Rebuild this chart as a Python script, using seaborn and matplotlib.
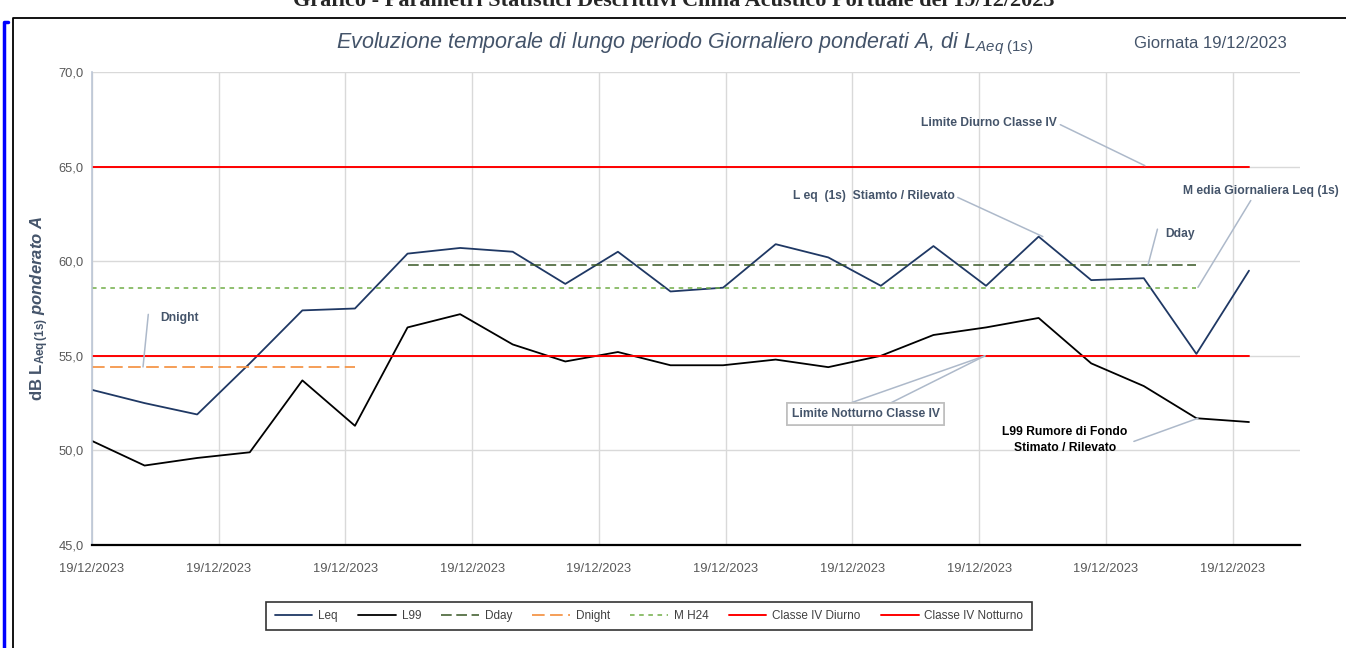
import numpy as np
import pandas as pd
import seaborn as sns
import matplotlib.pyplot as plt
from matplotlib.lines import Line2D

sns.set_style('white')
FONT = ['Liberation Sans', 'DejaVu Sans']
plt.rcParams['font.family'] = FONT
plt.rcParams['mathtext.fontset'] = 'custom'
plt.rcParams['mathtext.rm'] = 'Liberation Sans'
plt.rcParams['mathtext.it'] = 'Liberation Sans:italic'
plt.rcParams['mathtext.bf'] = 'Liberation Sans:bold'
plt.rcParams['mathtext.bfit'] = 'Liberation Sans:bold:italic'

# hourly samples of the day (index of the point along the time axis)
hours = list(range(23))
leq = [53.2, 52.5, 51.9, 54.6, 57.4, 57.5, 60.4, 60.7, 60.5, 58.8, 60.5, 58.4,
       58.6, 60.9, 60.2, 58.7, 60.8, 58.7, 61.3, 59.0, 59.1, 55.1, 59.5]
l99 = [50.5, 49.2, 49.6, 49.9, 53.7, 51.3, 56.5, 57.2, 55.6, 54.7, 55.2, 54.5,
       54.5, 54.8, 54.4, 55.0, 56.1, 56.5, 57.0, 54.6, 53.4, 51.7, 51.5]
dday_hours = list(range(6, 22))
dday_val = 59.8
dnight_hours = list(range(0, 6))
dnight_val = 54.4
mh24_hours = list(range(0, 22))
mh24_val = 58.6
lim_diurno = 65.0
lim_notturno = 55.0

series_names = ['Leq', 'L99', 'Dday', 'Dnight', 'M H24', 'Classe IV Diurno', 'Classe IV Notturno']
colors = ['#1F3864', '#000000', '#375623', '#F4964A', '#70AD47', '#FF0000', '#FF0000']
dash_styles = ['', '', (7, 3), (7, 3), (3, 3), '', '']
widths = [1.3, 1.3, 1.1, 1.3, 1.1, 1.4, 1.4]

y_ticks = [45, 50, 55, 60, 65, 70]
x_tick_labels = ['19/12/2023'] * 10

pieces = [
    pd.DataFrame({'ora': hours, 'dB': leq, 'serie': 'Leq'}),
    pd.DataFrame({'ora': hours, 'dB': l99, 'serie': 'L99'}),
    pd.DataFrame({'ora': dday_hours, 'dB': dday_val, 'serie': 'Dday'}),
    pd.DataFrame({'ora': dnight_hours, 'dB': dnight_val, 'serie': 'Dnight'}),
    pd.DataFrame({'ora': mh24_hours, 'dB': mh24_val, 'serie': 'M H24'}),
    pd.DataFrame({'ora': hours, 'dB': lim_diurno, 'serie': 'Classe IV Diurno'}),
    pd.DataFrame({'ora': hours, 'dB': lim_notturno, 'serie': 'Classe IV Notturno'}),
]
df = pd.concat(pieces, ignore_index=True)

fig = plt.figure(figsize=(13.46, 6.48), dpi=100)
ax = fig.add_axes([92/1346, 1-545/648, (1300-92)/1346, (545-72)/648])

sns.lineplot(data=df, x='ora', y='dB', hue='serie', style='serie',
             hue_order=series_names, style_order=series_names,
             palette=dict(zip(series_names, colors)),
             dashes=dict(zip(series_names, dash_styles)),
             ax=ax, legend=False, estimator=None, sort=False)
for line, lw in zip(ax.get_lines(), widths):
    line.set_linewidth(lw)

ax.set_xlim(0, 22.97)
ax.set_ylim(45, 70)
ax.set_yticks(y_ticks)
ax.set_yticklabels([f'{v:.1f}'.replace('.', ',') for v in y_ticks])
ax.set_xticks([i * 2.41 for i in range(len(x_tick_labels))])
ax.set_xticklabels(x_tick_labels)
ax.tick_params(axis='both', length=0, labelsize=9.3, colors='#595959', pad=6)
ax.tick_params(axis='x', pad=13)
ax.grid(True, color='#D9D9D9', lw=1)
ax.set_axisbelow(True)
for s in ['top', 'right']:
    ax.spines[s].set_visible(False)
ax.spines['left'].set_color('#BCC6D6')
ax.spines['left'].set_linewidth(1.2)
ax.spines['bottom'].set_color('black')
ax.spines['bottom'].set_linewidth(1.6)
ax.set_xlabel('')
ax.set_ylabel(r'dB L$_{\mathbf{Aeq\,(1s)}}$ $\mathbfit{ponderato\ A}$', fontsize=12, fontweight='bold',
              color='#44546A')
ax.yaxis.set_label_coords(-(92-51)/1208, 0.5)

# titles
fig.text(685/1346, 1-44/648, r'Evoluzione temporale di lungo periodo Giornaliero ponderati A, di L$_{Aeq\ (1s)}$',
         ha='center', va='center', fontsize=15.5, style='italic', color='#44546A')
fig.text(1210/1346, 1-44/648, 'Giornata 19/12/2023', ha='center', va='center',
         fontsize=12, color='#44546A')
fig.text(674/1346, 1-6/648, 'Grafico - Parametri Statistici Descrittivi Clima Acustico Portuale del 19/12/2023',
         ha='center', va='baseline', fontsize=16, fontweight='bold',
         family=['Liberation Serif', 'DejaVu Serif'])

# annotations with leader lines
lead = dict(arrowstyle='-', color='#ADB9CA', lw=1.1, shrinkA=0, shrinkB=0)
txt = dict(fontsize=8.7, color='#44546A', fontweight='bold')
ax.annotate('Dnight', xy=(0.97, 54.41), xytext=(1.29, 57.0), va='center', ha='left',
            arrowprops=dict(lead, relpos=(-0.3, 0.8)), **txt)
ax.annotate('Limite Diurno Classe IV', xy=(20.02, 65.05), xytext=(18.35, 67.3),
            ha='right', va='center', arrowprops=dict(lead, relpos=(1.0, 0.5)), **txt)
ax.annotate('L eq  (1s)  Stiamto / Rilevato', xy=(18.08, 61.3), xytext=(16.4, 63.45),
            ha='right', va='center', arrowprops=dict(lead, relpos=(1.0, 0.5)), **txt)
ax.annotate('Dday', xy=(20.08, 59.8), xytext=(20.4, 61.44), ha='left', va='center',
            arrowprops=dict(lead, relpos=(-0.25, 0.9)), **txt)
ax.annotate('M edia Giornaliera Leq (1s)', xy=(21.03, 58.62), xytext=(22.22, 63.7),
            ha='center', va='center', arrowprops=dict(lead, relpos=(0.45, 0.0)), **txt)
for rp in [(0.3, 1.0), (0.6, 1.0)]:
    ax.annotate('Limite Notturno Classe IV', xy=(16.98, 55.0), xytext=(14.71, 51.92),
                ha='center', va='center', arrowprops=dict(lead, relpos=rp),
                bbox=dict(boxstyle='square,pad=0.4', fc='white', ec='#BFBFBF', lw=1.2), **txt)
ax.annotate('L99 Rumore di Fondo\nStimato / Rilevato', xy=(21.03, 51.7), xytext=(18.5, 50.55),
            ha='center', va='center', fontsize=8.7, fontweight='bold', color='black',
            linespacing=1.5, arrowprops=dict(lead, relpos=(1.05, 0.45)))

# legend
handles = []
for c, lw, d in zip(colors, widths, dash_styles):
    h = Line2D([], [], color=c, lw=lw)
    if d:
        h.set_dashes(d)
    handles.append(h)
leg = fig.legend(handles, series_names, loc='center', bbox_to_anchor=(649/1346, 1-616/648),
                 ncol=7, frameon=True, fancybox=False, edgecolor='black', fontsize=8.5,
                 handlelength=3.2, columnspacing=1.7, handletextpad=0.5, borderpad=0.7)
leg.get_frame().set_linewidth(1.2)
for t in leg.get_texts():
    t.set_color('#404040')

# document frame
fig.add_artist(Line2D([13/1346, 13/1346, 1], [0, 1-18/648, 1-18/648], color='black', lw=1.3))
fig.add_artist(Line2D([8/1346, 4/1346, 4/1346], [1-22/648, 1-22/648, 0], color='#0000FF', lw=2.5))

fig.savefig('out.png', dpi=100)
